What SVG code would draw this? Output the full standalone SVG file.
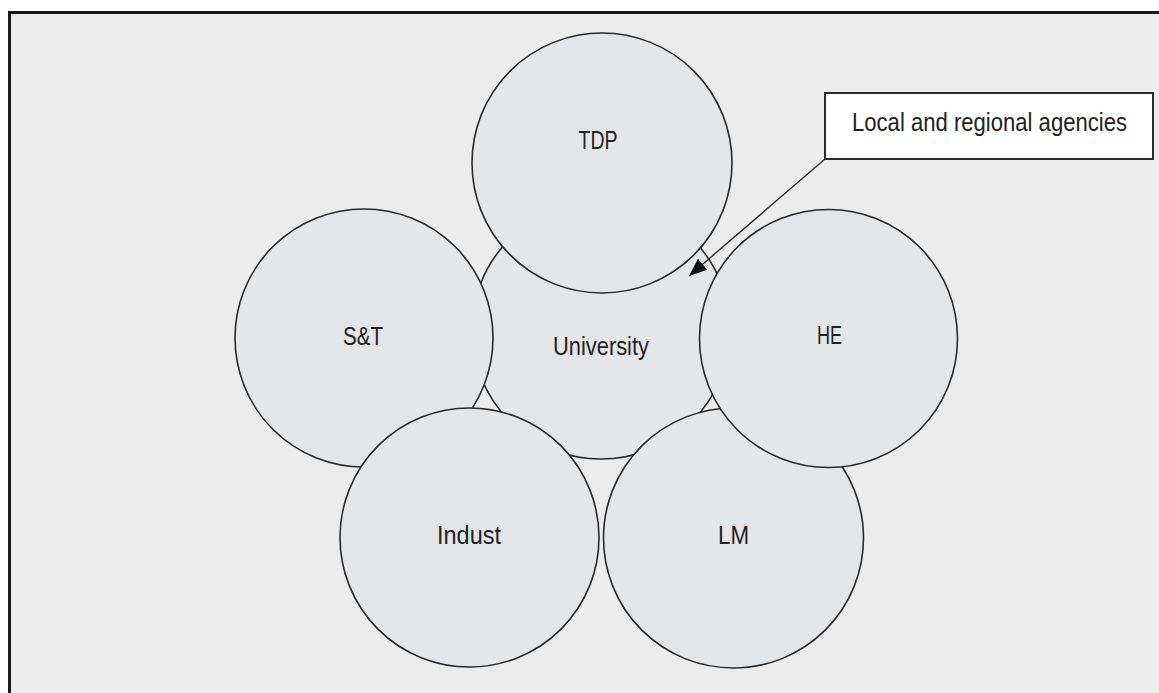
<svg xmlns="http://www.w3.org/2000/svg" width="1159" height="693" viewBox="0 0 1159 693">
<defs>
<style>
.c{fill:#e5e6e8;stroke:#2a2a2a;stroke-width:1.6}
.t{font-family:"Liberation Sans",Arial,sans-serif;font-size:26px;fill:#222;text-anchor:middle}
.ln{fill:none;stroke:#2a2a2a;stroke-width:1.4}
</style>
<marker id="ah" viewBox="0 0 10 10" refX="10" refY="5" markerWidth="18" markerHeight="18" markerUnits="userSpaceOnUse" orient="auto">
<path d="M0,1 L10,5 L0,9 Z" fill="#111"/>
</marker>
</defs>
<rect x="0" y="0" width="1159" height="693" fill="#ffffff"/>
<g id="frame">
<rect x="9.5" y="12.5" width="1149.5" height="680.5" fill="#ececec"/>
<path d="M9.5,693 L9.5,12.5 L1159,12.5" fill="none" stroke="#1a1a1a" stroke-width="3"/>
</g>
<g id="university"><circle class="c" cx="601" cy="330" r="129"/></g>
<g id="tdp"><circle class="c" cx="602" cy="163" r="130"/></g>
<g id="st"><circle class="c" cx="364" cy="338" r="129"/></g>
<g id="indust"><circle class="c" cx="469.5" cy="537.5" r="129.5"/></g>
<g id="lm"><circle class="c" cx="733.5" cy="538" r="130"/></g>
<g id="he"><circle class="c" cx="828.5" cy="338.5" r="129"/></g>
<g id="labels">
<text class="t" x="598" y="149" textLength="39" lengthAdjust="spacingAndGlyphs">TDP</text>
<text class="t" x="363" y="345" textLength="40" lengthAdjust="spacingAndGlyphs">S&amp;T</text>
<text class="t" x="601" y="355" textLength="96" lengthAdjust="spacingAndGlyphs">University</text>
<text class="t" x="829.5" y="344" textLength="25" lengthAdjust="spacingAndGlyphs">HE</text>
<text class="t" x="469" y="544" textLength="64" lengthAdjust="spacingAndGlyphs">Indust</text>
<text class="t" x="733.5" y="544" textLength="31" lengthAdjust="spacingAndGlyphs">LM</text>
</g>
<g id="agencies">
<rect x="825" y="93" width="328" height="66" fill="#ffffff" stroke="#2a2a2a" stroke-width="2"/>
<text class="t" transform="translate(989.5,131) scale(0.85,1)" x="0" y="0">Local and regional agencies</text>
</g>
<g id="connectors">
<line class="ln" x1="825" y1="159" x2="689" y2="276" marker-end="url(#ah)"/>
</g>
</svg>
